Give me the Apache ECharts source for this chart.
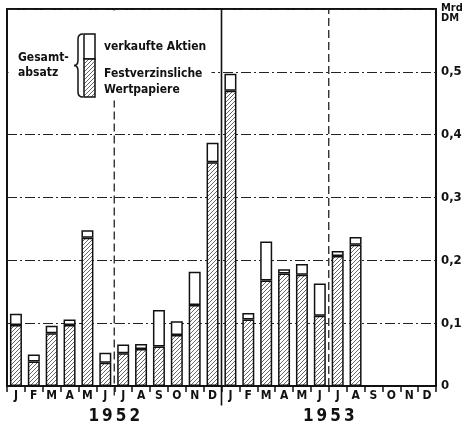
<!DOCTYPE html>
<html><head><meta charset="utf-8">
<script src="https://cdn.jsdelivr.net/npm/echarts@6/dist/echarts.min.js"></script>
<style>html,body{margin:0;padding:0;background:#fff}#c{width:465px;height:426px}</style>
</head><body><div id="c"></div>
<script>
const months = ['J','F','M','A','M','J','J','A','S','O','N','D','J','F','M','A','M','J','J','A','S','O','N','D'];
const years = ['1952','1953'];
// Festverzinsliche Wertpapiere (Mrd DM)
const festverzinsliche = [0.097,0.039,0.084,0.097,0.236,0.037,0.052,0.059,0.063,0.081,0.129,0.356,
                          0.470,0.106,0.168,0.179,0.177,0.112,0.207,0.225,null,null,null,null];
// verkaufte Aktien (Mrd DM)
const aktien = [0.018,0.011,0.012,0.009,0.012,0.016,0.014,0.008,0.058,0.022,0.053,0.031,
                0.027,0.010,0.062,0.007,0.017,0.051,0.008,0.012,null,null,null,null];
const yTicks = [0,0.1,0.2,0.3,0.4,0.5];

const FONT = '"DejaVu Sans Condensed","DejaVu Sans",sans-serif';

function hatch(){
  const c = document.createElement('canvas');
  c.width = 4; c.height = 4;
  const g = c.getContext('2d');
  g.fillStyle = '#fff'; g.fillRect(0,0,4,4);
  g.strokeStyle = '#555'; g.lineWidth = 0.9;
  g.beginPath();
  g.moveTo(0,4); g.lineTo(4,0);
  g.moveTo(-1,1); g.lineTo(1,-1);
  g.moveTo(3,5); g.lineTo(5,3);
  g.stroke();
  return c;
}
const hatchImg = hatch();
const braceStyle = {stroke:'#111',lineWidth:1.5,fill:null};
const Z = 60;

const chart = echarts.init(document.getElementById('c'), null, {renderer:'canvas'});
const option = {
  animation:false,
  backgroundColor:'#fff',
  textStyle:{fontFamily:FONT},
  grid:{left:7,right:29,top:9,bottom:40,show:true,borderColor:'#111',borderWidth:2,backgroundColor:'transparent'},
  xAxis:[
    {type:'category',data:months,
     axisLine:{lineStyle:{color:'#111',width:2}},
     axisTick:{show:true,alignWithLabel:false,length:6,lineStyle:{color:'#111',width:1.5}},
     axisLabel:{color:'#111',fontSize:12,fontWeight:600,margin:4,interval:0,fontFamily:FONT},
     splitLine:{show:false}},
    {type:'value',min:0,max:24,show:false},
    {type:'category',data:years,position:'bottom',offset:20,
     axisLine:{show:false},axisTick:{show:false},
     axisLabel:{color:'#111',fontSize:17,fontWeight:600,fontFamily:FONT,margin:2,
       formatter:v=>v.split('').join('\u2009')}}
  ],
  yAxis:{type:'value',min:0,max:0.6,interval:0.1,position:'right',
    axisLine:{show:false},axisTick:{show:false},
    axisLabel:{color:'#111',fontSize:13,fontWeight:600,margin:5,fontFamily:FONT,
      formatter:v=> (yTicks.some(t=>Math.abs(t-v)<1e-9) ? (Math.abs(v)<1e-9?'0':v.toFixed(1).replace('.',',')) : '')},
    splitLine:{show:true,lineStyle:{color:'#222',width:1,type:[10,3,2,3]}}
  },
  series:[
    {name:'Festverzinsliche Wertpapiere',type:'bar',stack:'g',data:festverzinsliche,barWidth:12,
     itemStyle:{color:{image:hatchImg,repeat:'repeat'},borderColor:'#111',borderWidth:1.5}},
    {name:'verkaufte Aktien',type:'bar',stack:'g',data:aktien,barWidth:12,
     itemStyle:{color:'#fff',borderColor:'#111',borderWidth:1.5}},
    {type:'line',xAxisIndex:1,data:[[6,-0.015],[6,0.6]],symbol:'none',clip:false,silent:true,
     lineStyle:{color:'#222',width:1.3,type:[8,4]}},
    {type:'line',xAxisIndex:1,data:[[18,0],[18,0.6]],symbol:'none',clip:false,silent:true,
     lineStyle:{color:'#222',width:1.3,type:[8,4]}},
    {type:'line',xAxisIndex:1,data:[[12,-0.031],[12,0.6]],symbol:'none',clip:false,silent:true,
     lineStyle:{color:'#111',width:1.6}}
  ],
  graphic:[
    {type:'rect',z:50,shape:{x:8.5,y:10.5,width:203,height:90},style:{fill:'#fff'}},
    {type:'text',z:Z,x:441,y:3,style:{text:'Mrd\nDM',fill:'#111',font:'600 11px '+FONT,lineHeight:10}},
    {type:'rect',z:Z,shape:{x:84,y:34,width:11,height:25},style:{fill:'#fff',stroke:'#111',lineWidth:1.5}},
    {type:'rect',z:Z,shape:{x:84,y:59,width:11,height:38},style:{fill:{image:hatchImg,repeat:'repeat'},stroke:'#111',lineWidth:1.5}},
    {type:'bezierCurve',z:Z,shape:{x1:83,y1:34,cpx1:78,cpy1:34,x2:78,y2:39},style:braceStyle},
    {type:'line',z:Z,shape:{x1:78,y1:39,x2:78,y2:60},style:braceStyle},
    {type:'bezierCurve',z:Z,shape:{x1:78,y1:60,cpx1:78,cpy1:65.5,x2:74,y2:65.5},style:braceStyle},
    {type:'bezierCurve',z:Z,shape:{x1:74,y1:65.5,cpx1:78,cpy1:65.5,x2:78,y2:71},style:braceStyle},
    {type:'line',z:Z,shape:{x1:78,y1:71,x2:78,y2:92},style:braceStyle},
    {type:'bezierCurve',z:Z,shape:{x1:78,y1:92,cpx1:78,cpy1:97,x2:83,y2:97},style:braceStyle},
    {type:'text',z:Z,x:18,y:50,style:{text:'Gesamt-\nabsatz',fill:'#111',font:'600 12px '+FONT,lineHeight:15}},
    {type:'text',z:Z,x:104,y:41,style:{text:'verkaufte Aktien',fill:'#111',font:'600 12px '+FONT}},
    {type:'text',z:Z,x:104,y:66,style:{text:'Festverzinsliche\nWertpapiere',fill:'#111',font:'600 12px '+FONT,lineHeight:16}}
  ]
};
chart.setOption(option);
</script></body></html>
